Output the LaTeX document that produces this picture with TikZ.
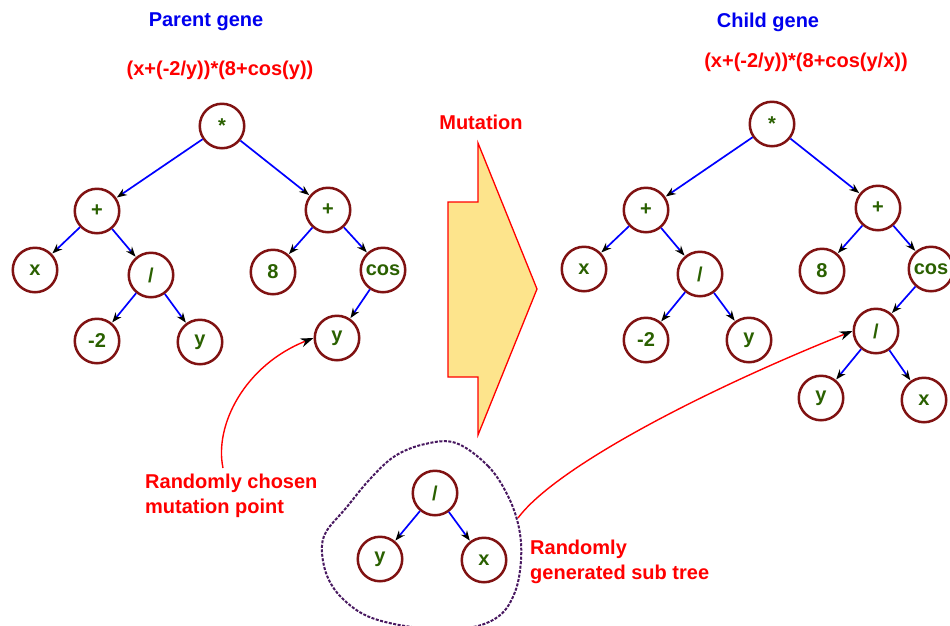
\documentclass[tikz,border=0pt]{standalone}
\usepackage{fontspec}
\setmainfont{Liberation Sans}
\usetikzlibrary{arrows.meta}

\definecolor{leafgreen}{RGB}{42,96,0}
\definecolor{ringred}{RGB}{128,18,18}
\definecolor{edgeblue}{RGB}{0,0,255}
\definecolor{notered}{RGB}{255,0,0}
\definecolor{titleblue}{RGB}{0,0,238}
\definecolor{arrowfill}{RGB}{253,228,140}
\definecolor{hullpurple}{RGB}{72,24,96}

\tikzset{
  gene/.style={circle, draw=ringred, line width=2.5pt, fill=white,
    minimum size=44.5pt, inner sep=0pt, text=leafgreen,
    font=\fontsize{20}{24}\selectfont\bfseries},
  link/.style={draw=edgeblue, line width=1.7pt,
    -{Stealth[length=10pt,width=7.5pt,black]}, shorten >=0.5pt},
  title/.style={text=titleblue, font=\fontsize{20}{25}\selectfont\bfseries},
  formula/.style={text=notered, font=\fontsize{20}{25}\selectfont\bfseries},
  note/.style={text=notered, align=left, inner sep=0pt,
    font=\fontsize{20}{25}\selectfont\bfseries},
  pointer/.style={draw=notered, line width=1.4pt,
    -{Stealth[length=13pt,width=9pt,black]}},
}

\begin{document}
\begin{tikzpicture}[x=1pt, y=-1pt]
  \useasboundingbox (0,0) rectangle (950,625);
  \fill[white] (0,0) rectangle (950,625);

  % headings and expressions
  \node[title]   (ptitle) at (206,22) {Parent gene};
  \node[formula] (pexpr)  at (220,70) {(x+(-2/y))*(8+cos(y))};
  \node[title]   (ctitle) at (768,22) {Child gene};
  \node[formula] (cexpr)  at (806,62) {(x+(-2/y))*(8+cos(y/x))};
  \node[formula] (mlabel) at (481,122) {Mutation};

  % block arrow between the two trees
  \draw[draw=notered, line width=1.3pt, fill=arrowfill, line join=miter]
    (478,143) -- (537,289) -- (478,435) -- (478,377) -- (448,377)
    -- (448,202) -- (478,202) -- cycle;

  % parent tree
  \node[gene] (pmul)  at (222,126) {*};
  \node[gene] (pplA)  at (97,211)  {+};
  \node[gene] (px)    at (35,270)  {x};
  \node[gene] (pdiv)  at (151,275) {/};
  \node[gene] (pm2)   at (97,341)  {-2};
  \node[gene] (py)    at (200,342) {y};
  \node[gene] (pplB)  at (328,210) {+};
  \node[gene] (p8)    at (273,272) {8};
  \node[gene] (pcos)  at (383,270) {cos};
  \node[gene] (pcy)   at (337,338) {y};
  \draw[link] (pmul) -- (pplA);
  \draw[link] (pmul) -- (pplB);
  \draw[link] (pplA) -- (px);
  \draw[link] (pplA) -- (pdiv);
  \draw[link] (pdiv) -- (pm2);
  \draw[link] (pdiv) -- (py);
  \draw[link] (pplB) -- (p8);
  \draw[link] (pplB) -- (pcos);
  \draw[link] (pcos) -- (pcy);

  % child tree
  \node[gene] (cmul)  at (772,124) {*};
  \node[gene] (cplA)  at (646,210) {+};
  \node[gene] (cx)    at (584,269) {x};
  \node[gene] (cdiv)  at (700,274) {/};
  \node[gene] (cm2)   at (646,340) {-2};
  \node[gene] (cy)    at (749,340) {y};
  \node[gene] (cplB)  at (878,208) {+};
  \node[gene] (c8)    at (822,271) {8};
  \node[gene] (ccos)  at (931,269) {cos};
  \node[gene] (cdivB) at (876,331) {/};
  \node[gene] (cyB)   at (821,398) {y};
  \node[gene] (cxB)   at (924,400) {x};
  \draw[link] (cmul) -- (cplA);
  \draw[link] (cmul) -- (cplB);
  \draw[link] (cplA) -- (cx);
  \draw[link] (cplA) -- (cdiv);
  \draw[link] (cdiv) -- (cm2);
  \draw[link] (cdiv) -- (cy);
  \draw[link] (cplB) -- (c8);
  \draw[link] (cplB) -- (ccos);
  \draw[link] (ccos) -- (cdivB);
  \draw[link] (cdivB) -- (cyB);
  \draw[link] (cdivB) -- (cxB);

  % generated sub tree with its dashed outline
  \draw[hullpurple, line width=2pt, dash pattern=on 3pt off 1.5pt]
    plot[smooth cycle, tension=0.6] coordinates {
      (456,443) (488,466) (508,496) (519,528) (521,560) (515,592)
      (499,616) (468,628) (420,628) (372,618) (344,600) (328,578)
      (322,552) (326,532) (346,508) (370,479) (395,456) (425,444)};
  \node[gene] (sdiv) at (435,493) {/};
  \node[gene] (sy)   at (380,559) {y};
  \node[gene] (sx)   at (484,560) {x};
  \draw[link] (sdiv) -- (sy);
  \draw[link] (sdiv) -- (sx);

  % annotations
  \node[note, anchor=north west] (pickText) at (145,474)
    {Randomly chosen\\mutation point};
  \node[note, anchor=north west] (genText) at (530,540)
    {Randomly\\generated sub tree};
  \coordinate (pickStart) at (223,468);
  \coordinate (genStart)  at (518,518);
  \draw[pointer] (pickStart) .. controls (214,425) and (245,365) .. (pcy.west);
  \draw[pointer] (genStart) .. controls (555,468) and (700,392) .. (cdivB.west);
\end{tikzpicture}
\end{document}
